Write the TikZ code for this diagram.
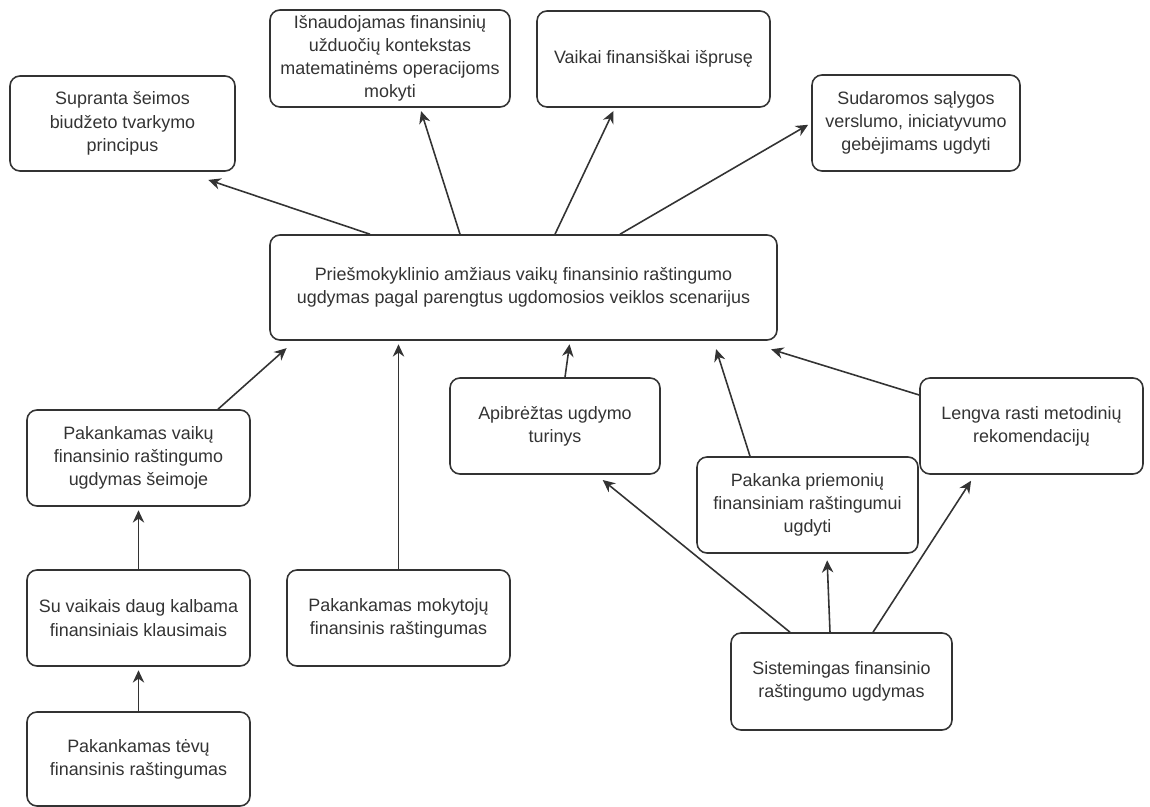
\documentclass[tikz,border=0pt]{standalone}
\usepackage{fontspec}
\setmainfont{Liberation Sans}
\usepackage{tikz}
\usetikzlibrary{arrows.meta,positioning}

\begin{document}
\begin{tikzpicture}[
font=\fontsize{10.2}{13.2}\selectfont,
box/.style={draw=black!80,line width=0.9pt,rounded corners=0.2cm,align=center,text=black!80,inner sep=2pt},
oneway/.style={->,line width=0.9pt,draw=black!80,>={Stealth[length=7pt,width=6.5pt]},shorten >=2pt}
]
    % page frame
    \useasboundingbox (0,0) rectangle (23,-16.14);

    % top row
    \node[box,minimum width=4.5cm,minimum height=1.9cm] (supranta) at (2.45,-2.47)
        {Supranta šeimos\\biudžeto tvarkymo\\principus};
    \node[box,minimum width=4.8cm,minimum height=1.94cm] (isnaud) at (7.8,-1.17)
        {Išnaudojamas finansinių\\užduočių kontekstas\\matematinėms operacijoms\\mokyti};
    \node[box,minimum width=4.66cm,minimum height=1.92cm] (ispruse) at (13.07,-1.18)
        {Vaikai finansiškai išprusę};
    \node[box,minimum width=4.16cm,minimum height=1.92cm] (sudaromos) at (18.32,-2.46)
        {Sudaromos sąlygos\\verslumo, iniciatyvumo\\gebėjimams ugdyti};

    % central
    \node[box,minimum width=10.14cm,minimum height=2.1cm] (central) at (10.47,-5.75)
        {Priešmokyklinio amžiaus vaikų finansinio raštingumo\\ugdymas pagal parengtus ugdomosios veiklos scenarijus};

    % right branch
    \node[box,minimum width=4.2cm,minimum height=1.92cm] (apibreztas) at (11.1,-8.52)
        {Apibrėžtas ugdymo\\turinys};
    \node[box,minimum width=4.46cm,minimum height=1.92cm] (lengva) at (20.63,-8.52)
        {Lengva rasti metodinių\\rekomendacijų};
    \node[box,minimum width=4.42cm,minimum height=1.92cm] (pakanka) at (16.15,-10.1)
        {Pakanka priemonių\\finansiniam raštingumui\\ugdyti};
    \node[box,minimum width=4.42cm,minimum height=1.94cm] (sistemingas) at (16.83,-13.63)
        {Sistemingas finansinio\\raštingumo ugdymas};

    % left branch
    \node[box,minimum width=4.46cm,minimum height=1.92cm] (seimoje) at (2.77,-9.16)
        {Pakankamas vaikų\\finansinio raštingumo\\ugdymas šeimoje};
    \node[box,minimum width=4.46cm,minimum height=1.92cm] (suvaikais) at (2.77,-12.36)
        {Su vaikais daug kalbama\\finansiniais klausimais};
    \node[box,minimum width=4.46cm,minimum height=1.88cm] (tevu) at (2.77,-15.18)
        {Pakankamas tėvų\\finansinis raštingumas};
    \node[box,minimum width=4.46cm,minimum height=1.92cm] (mokytoju) at (7.97,-12.36)
        {Pakankamas mokytojų\\finansinis raštingumas};

    % outgoing from central
    \draw[oneway] ([xshift=-3.07cm]central.north) -- ([xshift=1.65cm,yshift=-0.14cm]supranta.south);
    \draw[oneway] ([xshift=-1.27cm]central.north) -- ([xshift=0.6cm]isnaud.south);
    \draw[oneway] ([xshift=0.63cm]central.north) -- ([xshift=-0.77cm]ispruse.south);
    \draw[oneway] ([xshift=1.93cm]central.north) -- (sudaromos.west);

    % incoming to central
    \draw[oneway] ([xshift=1.59cm]seimoje.north) -- ([xshift=0.4cm,yshift=-0.1cm]central.south west);
    \draw[oneway] (mokytoju.north) -- (mokytoju.north |- central.south);
    \draw[oneway] ([xshift=0.2cm]apibreztas.north) -- ([xshift=0.93cm]central.south);
    \draw[oneway] ([xshift=-1.15cm]pakanka.north) -- ([xshift=3.83cm,yshift=-0.1cm]central.south);
    \draw[oneway] ([yshift=0.62cm]lengva.west) -- ([xshift=-0.2cm,yshift=-0.15cm]central.south east);

    % from sistemingas
    \draw[oneway] ([xshift=-1.03cm]sistemingas.north) -- ([xshift=0.9cm,yshift=-0.06cm]apibreztas.south);
    \draw[oneway] ([xshift=-0.23cm]sistemingas.north) -- ([xshift=0.39cm,yshift=-0.06cm]pakanka.south);
    \draw[oneway] ([xshift=0.63cm]sistemingas.north) -- ([xshift=-1.17cm,yshift=-0.06cm]lengva.south);

    % family chain
    \draw[oneway] (suvaikais) -- (seimoje);
    \draw[oneway] (tevu) -- (suvaikais);

\end{tikzpicture}
\end{document}
